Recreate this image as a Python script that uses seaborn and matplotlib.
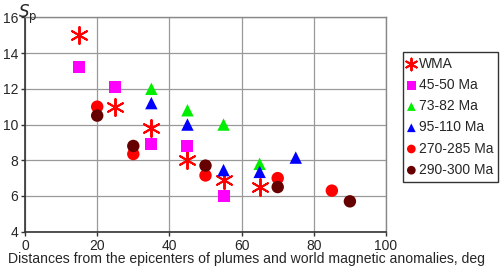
import matplotlib
matplotlib.use("Agg")
import matplotlib.pyplot as plt
import seaborn as sns
import pandas as pd

# ---- data ----
wma_x = [15, 25, 35, 45, 55, 65]
wma_y = [15.0, 11.0, 9.8, 8.0, 6.9, 6.5]
m4550_x = [15, 25, 35, 45, 55]
m4550_y = [13.2, 12.1, 8.9, 8.8, 6.0]
m7382_x = [35, 45, 55, 65]
m7382_y = [12.0, 10.8, 10.0, 7.8]
m95110_x = [35, 45, 55, 65, 75]
m95110_y = [11.2, 10.0, 7.45, 7.35, 8.15]
m270285_x = [20, 30, 50, 70, 85]
m270285_y = [11.0, 8.35, 7.15, 7.0, 6.3]
m290300_x = [20, 30, 50, 70, 90]
m290300_y = [10.5, 8.8, 7.7, 6.5, 5.7]

labels = ["WMA", "45-50 Ma", "73-82 Ma", "95-110 Ma", "270-285 Ma", "290-300 Ma"]
xs = [wma_x, m4550_x, m7382_x, m95110_x, m270285_x, m290300_x]
ys = [wma_y, m4550_y, m7382_y, m95110_y, m270285_y, m290300_y]
colors = ["#FF0000", "#FF00FF", "#00EE00", "#0000FF", "#FF0000", "#660000"]
markers = [(6, 2, 0), "s", "^", "^", "o", "o"]
sizes = [150, 75, 80, 80, 80, 80]

x_ticks = [0, 20, 40, 60, 80, 100]
y_ticks = [4, 6, 8, 10, 12, 14, 16]

sns.set_style("white")
plt.rcParams["font.family"] = ["Liberation Sans", "DejaVu Sans"]

fig = plt.figure(figsize=(5, 2.76), dpi=100)
ax = fig.add_axes([0.05, 0.1605, 0.722, 0.7765])

for lab, x, y, c, m, s in zip(labels, xs, ys, colors, markers, sizes):
    df = pd.DataFrame({"x": x, "y": y})
    if m == (6, 2, 0):
        sns.scatterplot(data=df, x="x", y="y", marker=m, color=c, s=s,
                        linewidth=1.4, label=lab, ax=ax, zorder=3)
    else:
        sns.scatterplot(data=df, x="x", y="y", marker=m, color=c, s=s,
                        edgecolor="none", linewidth=0, label=lab, ax=ax, zorder=3)

ax.set_xlim(0, 100)
ax.set_ylim(4, 16)
ax.set_xticks(x_ticks)
ax.set_yticks(y_ticks)
ax.grid(True, color="#999999", linewidth=0.9)
ax.set_axisbelow(True)
for side in ["top", "right"]:
    ax.spines[side].set_color("#888888")
    ax.spines[side].set_linewidth(1.0)
for side in ["left", "bottom"]:
    ax.spines[side].set_color("#333333")
    ax.spines[side].set_linewidth(1.2)
ax.tick_params(axis="both", labelsize=10, length=3, width=1, color="#333333",
               direction="out", pad=2, left=True, bottom=True)
ax.set_xlabel("")
ax.set_ylabel("")
fig.text(0.494, 0.062, "Distances from the epicenters of plumes and world magnetic anomalies, deg",
         fontsize=10.1, ha="center", va="center")
fig.text(0.036, 0.935, r"$\it{S}_\mathrm{p}$", fontsize=12, ha="left", va="baseline")

ax.get_legend().remove()
handles, labs = ax.get_legend_handles_labels()
leg = fig.legend(handles, labs, loc="upper left", bbox_to_anchor=(0.806, 0.812),
                 frameon=True, fancybox=False, edgecolor="black", fontsize=10,
                 labelspacing=0.52, handlelength=0.5, handletextpad=0.3,
                 borderpad=0.35, borderaxespad=0, markerscale=0.7)
leg.get_frame().set_linewidth(1.0)

fig.savefig("out.png", dpi=100)
